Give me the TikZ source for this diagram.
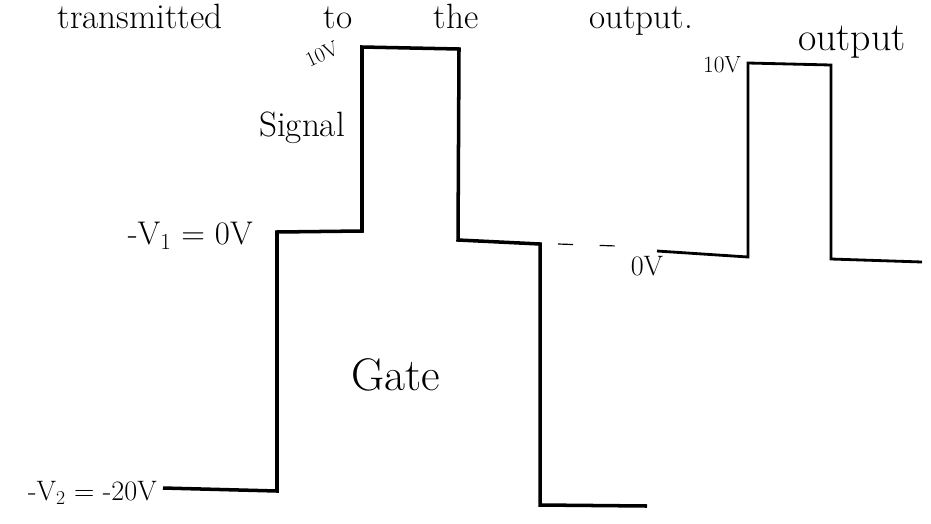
\documentclass[tikz,border=0pt]{standalone}
\usepackage{fontspec}

\begin{document}
\begin{tikzpicture}[x=0.03cm,y=-0.03cm,
  gatew/.style={line width=3pt,line join=miter},
  outw/.style={line width=2.4pt,line join=miter},
  lbl/.style={inner sep=0pt}]
  \useasboundingbox (0,0) rectangle (931,523);
  % note line at the top
  \node[lbl,anchor=base] (trans) at (140,28) {\fontsize{30}{36}\selectfont transmitted};
  \node[lbl,anchor=base] (to) at (338,28) {\fontsize{30}{36}\selectfont to};
  \node[lbl,anchor=base] (the) at (456,28) {\fontsize{30}{36}\selectfont the};
  \node[lbl,anchor=base] (outtxt) at (641,28) {\fontsize{30}{36}\selectfont output.};
  % gate waveform
  \draw[gatew] (163,488) -- (277,491) -- (277,232) -- (362,231) -- (362,47)
    -- (459,49) -- (458,240) -- (540,244) -- (540,505) -- (647,506);
  \node[lbl,rotate=25] (tenv) at (322,54) {\fontsize{18}{22}\selectfont 10V};
  \node[lbl] (sig) at (302,128) {\fontsize{30}{36}\selectfont Signal};
  \node[lbl,anchor=base east] (vone) at (253,244) {\fontsize{28}{34}\selectfont -V\textsubscript{1} = 0V};
  \node[lbl] (gatelbl) at (396,375) {\fontsize{39}{46}\selectfont Gate};
  \node[lbl,anchor=base east] (vtwo) at (157,500) {\fontsize{24}{29}\selectfont -V\textsubscript{2} = -20V};
  % output waveform
  \draw[line width=1pt,dash pattern=on 0.45cm off 0.8cm] (558,244) -- (617,246);
  \node[lbl] (zero) at (647,266) {\fontsize{24}{29}\selectfont 0V};
  \draw[outw] (657,251) -- (748,257) -- (748,63) -- (831,65) -- (831,259) -- (922,262);
  \node[lbl,anchor=base] (tenvo) at (722,72) {\fontsize{20}{24}\selectfont 10V};
  \node[lbl,anchor=base] (outlbl) at (852,50) {\fontsize{34}{40}\selectfont output};
\end{tikzpicture}
\end{document}
